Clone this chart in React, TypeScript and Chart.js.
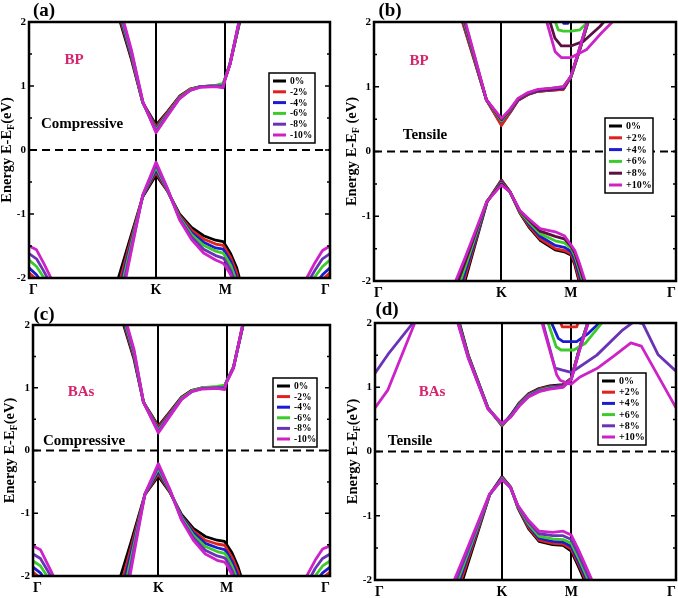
import React, { useEffect, useRef } from "react";
import { Chart, registerables } from "chart.js";

Chart.register(...registerables);

// ---------- shared axis data ----------
const K_POS = 0.422;
const M_POS = 0.652;
const X_TICK_VALUES = [0, K_POS, M_POS, 1];
const X_TICK_LABELS = ["Γ", "K", "M", "Γ"];
const Y_TICK_VALUES = [-2, -1, 0, 1, 2];
const Y_TICK_LABELS = ["-2", "-1", "0", "1", "2"];
const Y_MINOR_TICKS = [-1.5, -1, -0.5, 0, 0.5, 1, 1.5];

const SERIES_COMP = ["0%", "-2%", "-4%", "-6%", "-8%", "-10%"];
const SERIES_TENS = ["0%", "+2%", "+4%", "+6%", "+8%", "+10%"];
const COLORS_PURPLE = ["#000000", "#e0211d", "#1b1bd2", "#3ccb2a", "#6a32b6", "#cc22c8"];
const COLORS_MAROON = ["#000000", "#e0211d", "#1b1bd2", "#3ccb2a", "#5a1040", "#cc22c8"];

// ---------- panel (a): BP compressive ----------
const A_CB_X = [0.30, 0.34, 0.378, 0.422, 0.46, 0.50, 0.535, 0.57, 0.62, 0.645, 0.652, 0.668, 0.705];
const A_CB_Y = [
  [2.05, 1.42, 0.74, 0.39, 0.60, 0.84, 0.95, 0.99, 1.00, 1.02, 1.12, 1.35, 2.10],
  [2.10, 1.45, 0.74, 0.36, 0.59, 0.83, 0.95, 0.99, 1.00, 1.02, 1.12, 1.35, 2.12],
  [2.14, 1.48, 0.74, 0.33, 0.57, 0.82, 0.94, 0.99, 1.00, 1.03, 1.12, 1.35, 2.14],
  [2.18, 1.51, 0.74, 0.31, 0.56, 0.82, 0.94, 0.99, 1.01, 1.04, 1.13, 1.36, 2.15],
  [2.22, 1.54, 0.75, 0.29, 0.55, 0.81, 0.93, 0.99, 1.00, 1.00, 1.12, 1.35, 2.16],
  [2.26, 1.57, 0.76, 0.27, 0.53, 0.80, 0.93, 0.98, 0.99, 0.97, 1.11, 1.34, 2.18],
];
const A_VB_X = [0.29, 0.33, 0.378, 0.422, 0.46, 0.50, 0.54, 0.58, 0.62, 0.645, 0.652, 0.67, 0.69, 0.71];
const A_VB_Y = [
  [-2.11, -1.48, -0.73, -0.39, -0.64, -1.00, -1.21, -1.34, -1.41, -1.43, -1.48, -1.62, -1.84, -2.20],
  [-2.25, -1.55, -0.72, -0.35, -0.64, -1.02, -1.25, -1.39, -1.47, -1.49, -1.54, -1.68, -1.92, -2.28],
  [-2.38, -1.62, -0.72, -0.31, -0.63, -1.04, -1.29, -1.44, -1.53, -1.55, -1.60, -1.74, -2.00, -2.36],
  [-2.50, -1.68, -0.71, -0.27, -0.62, -1.05, -1.32, -1.49, -1.58, -1.61, -1.66, -1.80, -2.06, -2.44],
  [-2.62, -1.75, -0.71, -0.23, -0.61, -1.07, -1.36, -1.55, -1.65, -1.69, -1.73, -1.88, -2.14, -2.52],
  [-2.74, -1.81, -0.70, -0.19, -0.60, -1.09, -1.40, -1.61, -1.72, -1.77, -1.81, -1.95, -2.22, -2.60],
];
const A_GL_X = [0, 0.025, 0.05, 0.075, 0.10];
const A_GL_Y = [
  [-1.98, -2.08, -2.25, -2.45, -2.65],
  [-1.92, -2.02, -2.20, -2.40, -2.60],
  [-1.84, -1.95, -2.12, -2.32, -2.55],
  [-1.72, -1.82, -2.00, -2.20, -2.45],
  [-1.62, -1.70, -1.90, -2.12, -2.35],
  [-1.50, -1.56, -1.78, -2.02, -2.25],
];
const A_GR_X = [0.90, 0.925, 0.95, 0.975, 1.0];
const A_GR_Y = [
  [-2.60, -2.42, -2.24, -2.08, -1.98],
  [-2.55, -2.36, -2.18, -2.02, -1.92],
  [-2.48, -2.28, -2.10, -1.95, -1.84],
  [-2.40, -2.18, -1.98, -1.82, -1.72],
  [-2.30, -2.08, -1.88, -1.70, -1.62],
  [-2.20, -1.98, -1.76, -1.57, -1.50],
];

// ---------- panel (b): BP tensile ----------
const B_CB_X = [0.29, 0.33, 0.372, 0.422, 0.45, 0.477, 0.51, 0.543, 0.59, 0.627, 0.652, 0.68, 0.71];
const B_CB_Y = [
  [2.06, 1.45, 0.80, 0.42, 0.60, 0.79, 0.88, 0.93, 0.95, 0.96, 1.15, 1.55, 2.02],
  [2.04, 1.44, 0.80, 0.40, 0.60, 0.79, 0.88, 0.93, 0.95, 0.96, 1.15, 1.55, 2.02],
  [2.10, 1.47, 0.80, 0.46, 0.62, 0.80, 0.89, 0.94, 0.96, 0.98, 1.15, 1.56, 2.03],
  [2.14, 1.49, 0.80, 0.47, 0.63, 0.81, 0.90, 0.95, 0.98, 1.00, 1.15, 1.57, 2.04],
  [2.18, 1.51, 0.80, 0.49, 0.64, 0.81, 0.90, 0.95, 0.97, 0.99, 1.16, 1.58, 2.05],
  [2.22, 1.53, 0.80, 0.51, 0.65, 0.82, 0.91, 0.96, 0.98, 1.00, 1.16, 1.58, 2.06],
];
const B_VB_X = [0.26, 0.30, 0.374, 0.422, 0.45, 0.483, 0.515, 0.55, 0.60, 0.63, 0.652, 0.665, 0.68, 0.71];
const B_VB_Y = [
  [-2.70, -2.02, -0.78, -0.44, -0.62, -0.95, -1.18, -1.37, -1.52, -1.55, -1.60, -1.75, -2.02, -2.50],
  [-2.60, -1.96, -0.78, -0.45, -0.62, -0.94, -1.16, -1.35, -1.50, -1.53, -1.58, -1.72, -1.98, -2.45],
  [-2.48, -1.89, -0.78, -0.47, -0.62, -0.93, -1.13, -1.31, -1.45, -1.48, -1.54, -1.67, -1.90, -2.38],
  [-2.36, -1.81, -0.77, -0.49, -0.62, -0.93, -1.10, -1.27, -1.38, -1.41, -1.49, -1.61, -1.83, -2.30],
  [-2.24, -1.73, -0.77, -0.50, -0.62, -0.92, -1.07, -1.23, -1.31, -1.35, -1.46, -1.57, -1.78, -2.22],
  [-2.12, -1.66, -0.77, -0.52, -0.62, -0.91, -1.05, -1.19, -1.24, -1.30, -1.44, -1.53, -1.72, -2.16],
];
const B_U4_X = [0.61, 0.628, 0.642, 0.66];
const B_U4_Y = [2.2, 1.98, 1.98, 2.2];
const B_U6_X = [0.585, 0.61, 0.627, 0.652, 0.682, 0.70, 0.72];
const B_U6_Y = [2.2, 1.88, 1.86, 1.86, 1.88, 1.96, 2.1];
const B_U8_X = [0.57, 0.599, 0.62, 0.652, 0.693, 0.748, 0.77];
const B_U8_Y = [2.2, 1.75, 1.63, 1.63, 1.70, 1.93, 2.05];
const B_U10_X = [0.56, 0.60, 0.62, 0.652, 0.703, 0.753, 0.80];
const B_U10_Y = [2.2, 1.54, 1.45, 1.45, 1.57, 1.83, 2.05];

// ---------- panel (c): BAs compressive ----------
const C_CB_X = [0.30, 0.34, 0.372, 0.422, 0.46, 0.50, 0.535, 0.57, 0.62, 0.645, 0.652, 0.675, 0.71];
const C_CB_Y = [
  [2.08, 1.46, 0.77, 0.39, 0.61, 0.85, 0.96, 1.00, 1.01, 1.02, 1.10, 1.33, 2.05],
  [2.12, 1.49, 0.77, 0.37, 0.60, 0.84, 0.95, 1.00, 1.01, 1.02, 1.10, 1.33, 2.06],
  [2.16, 1.52, 0.77, 0.34, 0.58, 0.83, 0.95, 0.99, 1.00, 1.02, 1.10, 1.32, 2.07],
  [2.20, 1.55, 0.77, 0.32, 0.57, 0.83, 0.95, 1.00, 1.02, 1.04, 1.11, 1.33, 2.08],
  [2.24, 1.58, 0.77, 0.30, 0.56, 0.82, 0.94, 0.99, 1.00, 1.00, 1.10, 1.32, 2.09],
  [2.28, 1.61, 0.77, 0.28, 0.54, 0.81, 0.94, 0.98, 0.99, 0.97, 1.09, 1.31, 2.10],
];
const C_VB_X = [0.29, 0.33, 0.377, 0.422, 0.46, 0.50, 0.54, 0.58, 0.62, 0.645, 0.652, 0.67, 0.69, 0.71];
const C_VB_Y = [
  [-2.08, -1.46, -0.70, -0.41, -0.66, -1.02, -1.24, -1.37, -1.43, -1.45, -1.50, -1.63, -1.85, -2.15],
  [-2.25, -1.55, -0.70, -0.37, -0.65, -1.04, -1.28, -1.43, -1.49, -1.51, -1.56, -1.70, -1.92, -2.24],
  [-2.42, -1.64, -0.70, -0.33, -0.64, -1.05, -1.31, -1.48, -1.55, -1.58, -1.62, -1.77, -2.00, -2.32],
  [-2.58, -1.73, -0.69, -0.29, -0.63, -1.07, -1.35, -1.53, -1.61, -1.64, -1.68, -1.84, -2.08, -2.40],
  [-2.75, -1.82, -0.69, -0.25, -0.62, -1.09, -1.39, -1.59, -1.68, -1.71, -1.75, -1.91, -2.16, -2.48],
  [-2.92, -1.91, -0.69, -0.21, -0.61, -1.11, -1.43, -1.65, -1.75, -1.78, -1.82, -1.98, -2.24, -2.56],
];
const C_GL_X = [0, 0.025, 0.05, 0.075, 0.10];
const C_GL_Y = [
  [-2.02, -2.10, -2.26, -2.45, -2.65],
  [-1.94, -2.03, -2.20, -2.40, -2.60],
  [-1.86, -1.95, -2.12, -2.32, -2.55],
  [-1.76, -1.84, -2.02, -2.22, -2.45],
  [-1.65, -1.72, -1.92, -2.14, -2.36],
  [-1.52, -1.58, -1.82, -2.06, -2.28],
];
const C_GR_X = [0.90, 0.925, 0.95, 0.975, 1.0];
const C_GR_Y = [
  [-2.65, -2.45, -2.26, -2.10, -2.02],
  [-2.58, -2.38, -2.19, -2.03, -1.94],
  [-2.50, -2.30, -2.10, -1.95, -1.86],
  [-2.42, -2.20, -2.00, -1.84, -1.76],
  [-2.32, -2.10, -1.88, -1.72, -1.65],
  [-2.20, -1.97, -1.75, -1.57, -1.52],
];

// ---------- panel (d): BAs tensile ----------
const D_CB_X = [0.27, 0.31, 0.375, 0.422, 0.45, 0.48, 0.51, 0.545, 0.58, 0.625, 0.652, 0.68, 0.71];
const D_CB_Y = [
  [2.18, 1.50, 0.68, 0.41, 0.56, 0.76, 0.90, 0.98, 1.02, 1.04, 1.14, 1.62, 2.05],
  [2.16, 1.49, 0.68, 0.40, 0.55, 0.75, 0.89, 0.97, 1.01, 1.03, 1.14, 1.62, 2.05],
  [2.14, 1.48, 0.68, 0.41, 0.55, 0.74, 0.88, 0.96, 1.00, 1.02, 1.13, 1.61, 2.04],
  [2.12, 1.47, 0.67, 0.42, 0.54, 0.73, 0.87, 0.95, 0.99, 1.01, 1.13, 1.60, 2.04],
  [2.10, 1.46, 0.67, 0.43, 0.54, 0.72, 0.86, 0.94, 0.98, 1.01, 1.12, 1.59, 2.03],
  [2.08, 1.45, 0.66, 0.44, 0.53, 0.71, 0.85, 0.93, 0.97, 1.00, 1.12, 1.58, 2.02],
];
const D_VB_X = [0.25, 0.29, 0.381, 0.422, 0.45, 0.475, 0.51, 0.545, 0.59, 0.625, 0.652, 0.675, 0.70, 0.73];
const D_VB_Y = [
  [-2.55, -2.02, -0.67, -0.39, -0.55, -0.88, -1.20, -1.40, -1.45, -1.46, -1.55, -1.78, -2.05, -2.40],
  [-2.48, -1.95, -0.67, -0.40, -0.55, -0.87, -1.18, -1.38, -1.43, -1.44, -1.52, -1.74, -2.00, -2.35],
  [-2.40, -1.88, -0.67, -0.41, -0.55, -0.86, -1.15, -1.35, -1.40, -1.41, -1.48, -1.70, -1.96, -2.30],
  [-2.32, -1.82, -0.67, -0.42, -0.56, -0.86, -1.13, -1.32, -1.36, -1.37, -1.43, -1.65, -1.91, -2.25],
  [-2.24, -1.76, -0.67, -0.43, -0.56, -0.85, -1.10, -1.28, -1.31, -1.31, -1.37, -1.59, -1.85, -2.18],
  [-2.15, -1.70, -0.66, -0.44, -0.56, -0.84, -1.07, -1.24, -1.26, -1.24, -1.30, -1.52, -1.78, -2.10],
];
const D_U2_X = [0.60, 0.622, 0.67, 0.69];
const D_U2_Y = [2.2, 1.94, 1.94, 2.2];
const D_U4_X = [0.582, 0.609, 0.625, 0.67, 0.709, 0.745];
const D_U4_Y = [2.05, 1.76, 1.71, 1.71, 1.84, 2.0];
const D_U6_X = [0.573, 0.602, 0.618, 0.66, 0.698, 0.757];
const D_U6_Y = [2.03, 1.63, 1.58, 1.58, 1.68, 2.02];
const D_U8_X = [0.555, 0.598, 0.62, 0.652, 0.737, 0.82, 0.86, 0.89, 0.94, 1.0];
const D_U8_Y = [2.05, 1.30, 1.27, 1.23, 1.50, 1.88, 2.02, 1.99, 1.51, 1.25];
const D_U10_X = [0.552, 0.604, 0.615, 0.64, 0.652, 0.681, 0.737, 0.792, 0.85, 0.885, 0.94, 1.0];
const D_U10_Y = [2.05, 1.19, 1.11, 1.06, 1.05, 1.16, 1.29, 1.48, 1.69, 1.64, 1.18, 0.68];
const D_G8_X = [0, 0.043, 0.126, 0.15];
const D_G8_Y = [1.22, 1.51, 2.0, 2.15];
const D_G10_X = [0, 0.043, 0.132, 0.15];
const D_G10_Y = [0.68, 0.96, 2.0, 2.2];

// ---------- panel configuration ----------
type Band = { x: number[]; ys: number[][] };
type Extra = { s: number; x: number[]; y: number[] };
type Panel = {
  id: string; left: number; top: number; w: number; h: number;
  area: { l: number; t: number; r: number; b: number };
  letter: string; letterPos: [number, number];
  material: string; materialPos: [number, number];
  strain: string; strainPos: [number, number];
  legendBox: [number, number, number, number]; legendFont: number;
  series: string[]; colors: string[];
  bands: Band[]; extras: Extra[];
  titleX: number; unit: string;
};

const PANELS: Panel[] = [
  {
    id: "a", left: 0, top: 0, w: 339, h: 298,
    area: { l: 29, t: 22, r: 9, b: 20 },
    letter: "(a)", letterPos: [44, 11],
    material: "BP", materialPos: [45, 38],
    strain: "Compressive", strainPos: [53, 102],
    legendBox: [240, 51, 46, 70], legendFont: 9.5,
    series: SERIES_COMP, colors: COLORS_PURPLE,
    bands: [
      { x: A_CB_X, ys: A_CB_Y }, { x: A_VB_X, ys: A_VB_Y },
      { x: A_GL_X, ys: A_GL_Y }, { x: A_GR_X, ys: A_GR_Y },
    ],
    extras: [],
    titleX: 7, unit: "(eV)",
  },
  {
    id: "b", left: 339, top: 0, w: 339, h: 298,
    area: { l: 35, t: 22, r: 2, b: 17 },
    letter: "(b)", letterPos: [51, 11],
    material: "BP", materialPos: [45, 39],
    strain: "Tensile", strainPos: [51, 113],
    legendBox: [231, 96, 48, 75], legendFont: 10,
    series: SERIES_TENS, colors: COLORS_MAROON,
    bands: [{ x: B_CB_X, ys: B_CB_Y }, { x: B_VB_X, ys: B_VB_Y }],
    extras: [
      { s: 2, x: B_U4_X, y: B_U4_Y }, { s: 3, x: B_U6_X, y: B_U6_Y },
      { s: 4, x: B_U8_X, y: B_U8_Y }, { s: 5, x: B_U10_X, y: B_U10_Y },
    ],
    titleX: 13, unit: " (eV)",
  },
  {
    id: "c", left: 0, top: 298, w: 339, h: 300,
    area: { l: 33, t: 27, r: 9, b: 22 },
    letter: "(c)", letterPos: [44, 17],
    material: "BAs", materialPos: [48, 67],
    strain: "Compressive", strainPos: [51, 116],
    legendBox: [240, 53, 44, 69], legendFont: 9.5,
    series: SERIES_COMP, colors: COLORS_PURPLE,
    bands: [
      { x: C_CB_X, ys: C_CB_Y }, { x: C_VB_X, ys: C_VB_Y },
      { x: C_GL_X, ys: C_GL_Y }, { x: C_GR_X, ys: C_GR_Y },
    ],
    extras: [],
    titleX: 10, unit: "(eV)",
  },
  {
    id: "d", left: 339, top: 298, w: 339, h: 300,
    area: { l: 36, t: 25, r: 2, b: 18 },
    letter: "(d)", letterPos: [48, 12],
    material: "BAs", materialPos: [57, 69],
    strain: "Tensile", strainPos: [35, 118],
    legendBox: [223, 50, 48, 72], legendFont: 10,
    series: SERIES_TENS, colors: COLORS_PURPLE,
    bands: [{ x: D_CB_X, ys: D_CB_Y }, { x: D_VB_X, ys: D_VB_Y }],
    extras: [
      { s: 1, x: D_U2_X, y: D_U2_Y }, { s: 2, x: D_U4_X, y: D_U4_Y },
      { s: 3, x: D_U6_X, y: D_U6_Y }, { s: 4, x: D_U8_X, y: D_U8_Y },
      { s: 5, x: D_U10_X, y: D_U10_Y }, { s: 4, x: D_G8_X, y: D_G8_Y },
      { s: 5, x: D_G10_X, y: D_G10_Y },
    ],
    titleX: 14, unit: "(eV)",
  },
];

const SERIF = '"Liberation Serif", "Times New Roman", serif';
const PINK = "#d6246e";

function buildDatasets(p: Panel) {
  const out: any[] = [];
  const n = p.series.length;
  const mk = (s: number, x: number[], y: number[]) => ({
    label: p.series[s],
    data: x.map((xv, j) => ({ x: xv, y: y[j] })),
    borderColor: p.colors[s],
    backgroundColor: p.colors[s],
    borderWidth: 2.8,
    borderJoinStyle: "round",
    pointRadius: 0,
    fill: false,
    tension: 0,
    clip: 0,
    order: n - 1 - s,
  });
  for (let s = 0; s < n; s++) {
    p.bands.forEach((b) => out.push(mk(s, b.x, b.ys[s])));
    p.extras.filter((e) => e.s === s).forEach((e) => out.push(mk(s, e.x, e.y)));
  }
  return out;
}

function makePlugin(p: Panel) {
  return {
    id: "deco_" + p.id,
    beforeDatasetsDraw(chart: any) {
      const { ctx, chartArea: a, scales } = chart;
      const y0 = scales.y.getPixelForValue(0);
      ctx.save();
      ctx.strokeStyle = "#000";
      ctx.lineWidth = 2;
      ctx.setLineDash([8, 5]);
      ctx.beginPath();
      ctx.moveTo(a.left, y0);
      ctx.lineTo(a.right, y0);
      ctx.stroke();
      ctx.restore();
    },
    afterDatasetsDraw(chart: any) {
      const { ctx, chartArea: a, scales } = chart;
      ctx.save();
      // frame
      ctx.strokeStyle = "#000";
      ctx.lineWidth = 2.5;
      ctx.strokeRect(a.left, a.top, a.right - a.left, a.bottom - a.top);
      // inward ticks
      ctx.lineWidth = 1.5;
      Y_MINOR_TICKS.forEach((v) => {
        const y = scales.y.getPixelForValue(v);
        const len = Number.isInteger(v) ? 5 : 3;
        ctx.beginPath();
        ctx.moveTo(a.left, y);
        ctx.lineTo(a.left + len, y);
        ctx.moveTo(a.right, y);
        ctx.lineTo(a.right - len, y);
        ctx.stroke();
      });
      // legend
      const [lx, ly, lw, lh] = p.legendBox;
      const bx = a.left + lx, by = a.top + ly;
      ctx.fillStyle = "#fff";
      ctx.fillRect(bx, by, lw, lh);
      ctx.lineWidth = 1.5;
      ctx.strokeStyle = "#000";
      ctx.strokeRect(bx, by, lw, lh);
      const gap = (lh - 16) / (p.series.length - 1);
      ctx.font = `bold ${p.legendFont}px ${SERIF}`;
      ctx.textBaseline = "middle";
      ctx.textAlign = "left";
      p.series.forEach((name, i) => {
        const y = by + 8 + i * gap;
        ctx.strokeStyle = p.colors[i];
        ctx.lineWidth = 3;
        ctx.beginPath();
        ctx.moveTo(bx + 4, y);
        ctx.lineTo(bx + 17, y);
        ctx.stroke();
        ctx.fillStyle = "#000";
        ctx.fillText(name, bx + 21, y + 0.5);
      });
      // annotations
      ctx.textAlign = "center";
      ctx.font = `bold 15px ${SERIF}`;
      ctx.fillStyle = PINK;
      ctx.fillText(p.material, a.left + p.materialPos[0], a.top + p.materialPos[1]);
      ctx.fillStyle = "#000";
      ctx.fillText(p.strain, a.left + p.strainPos[0], a.top + p.strainPos[1]);
      // panel letter
      ctx.font = `bold 19px ${SERIF}`;
      ctx.fillText(p.letter, p.letterPos[0], p.letterPos[1]);
      // y-axis title with subscript
      ctx.translate(p.titleX, (a.top + a.bottom) / 2);
      ctx.rotate(-Math.PI / 2);
      const big = `bold 14.5px ${SERIF}`;
      const small = `bold 10px ${SERIF}`;
      const parts = [
        { t: "Energy E-E", f: big, dy: 0 },
        { t: "F", f: small, dy: 4 },
        { t: p.unit, f: big, dy: 0 },
      ];
      let total = 0;
      parts.forEach((pt) => { ctx.font = pt.f; total += ctx.measureText(pt.t).width; });
      let x = -total / 2;
      ctx.textAlign = "left";
      parts.forEach((pt) => {
        ctx.font = pt.f;
        ctx.fillText(pt.t, x, pt.dy);
        x += ctx.measureText(pt.t).width;
      });
      ctx.restore();
    },
  };
}

function BandPanel({ p }: { p: Panel }) {
  const ref = useRef<HTMLCanvasElement | null>(null);
  useEffect(() => {
    if (!ref.current) return;
    const chart = new Chart(ref.current, {
      type: "line",
      data: { datasets: buildDatasets(p) },
      options: {
        animation: false,
        responsive: false,
        maintainAspectRatio: false,
        layout: { padding: { left: 0, top: p.area.t, right: p.area.r, bottom: 0 } },
        plugins: { legend: { display: false }, tooltip: { enabled: false }, title: { display: false } },
        scales: {
          x: {
            type: "linear",
            min: 0,
            max: 1,
            afterBuildTicks: (s: any) => { s.ticks = X_TICK_VALUES.map((v) => ({ value: v })); },
            afterFit: (s: any) => { s.height = p.area.b; s.paddingLeft = 0; s.paddingRight = 0; },
            ticks: {
              autoSkip: false,
              maxRotation: 0,
              align: "inner",
              padding: 4,
              color: "#000",
              font: { family: SERIF, weight: "bold", size: 14 },
              callback: (_v: any, i: number) => X_TICK_LABELS[i],
            },
            grid: { color: "#000", lineWidth: 2, drawTicks: false },
            border: { display: false },
          },
          y: {
            type: "linear",
            min: -2,
            max: 2,
            afterBuildTicks: (s: any) => { s.ticks = Y_TICK_VALUES.map((v) => ({ value: v })); },
            afterFit: (s: any) => { s.width = p.area.l; s.paddingTop = 0; s.paddingBottom = 0; },
            ticks: {
              padding: 3,
              color: "#000",
              font: { family: SERIF, weight: "bold", size: 11 },
              callback: (_v: any, i: number) => Y_TICK_LABELS[i],
            },
            grid: { display: false, drawTicks: false },
            border: { display: false },
          },
        },
      } as any,
      plugins: [makePlugin(p)],
    });
    return () => chart.destroy();
  }, [p]);
  return (
    <canvas
      ref={ref}
      width={p.w}
      height={p.h}
      style={{ position: "absolute", left: p.left, top: p.top, width: p.w, height: p.h }}
    />
  );
}

export default function App() {
  return (
    <div style={{ position: "fixed", left: 0, top: 0, width: 678, height: 598, background: "#fff" }}>
      {PANELS.map((p) => (
        <BandPanel key={p.id} p={p} />
      ))}
    </div>
  );
}
